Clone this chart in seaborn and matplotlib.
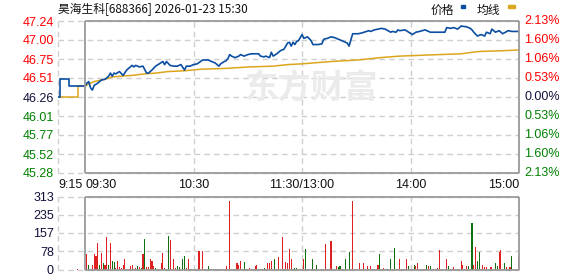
import matplotlib
matplotlib.use("Agg")
import matplotlib.pyplot as plt
from matplotlib.patches import Rectangle
import seaborn as sns
import pandas as pd

# ---------------- data ----------------
title = "昊海生科[688366] 2026-01-23 15:30"
prev_close = 46.26
price_ticks = [47.24, 47.00, 46.75, 46.51, 46.26, 46.01, 45.77, 45.52, 45.28]
pct_ticks = ["2.13%", "1.60%", "1.06%", "0.53%", "0.00%", "0.53%", "1.06%", "1.60%", "2.13%"]
vol_ticks = [0, 78, 157, 235, 313]
time_labels = ["9:15", "09:30", "10:30", "11:30/13:00", "14:00", "15:00"]
time_label_pos = [0, 15, 75, 135, 195, 255]   # minutes since 9:15 on the chart axis

# pre-market (minutes since 9:15)
pre_minutes = list(range(16))
pre_price = [46.26, 46.49, 46.49, 46.49, 46.49, 46.49, 46.40, 46.40,
             46.40, 46.40, 46.40, 46.40, 46.40, 46.40, 46.40, 46.40]
pre_avg = [46.26, 46.26, 46.26, 46.26, 46.26, 46.26, 46.26, 46.26,
           46.26, 46.26, 46.26, 46.40, 46.40, 46.40, 46.40, 46.40]
pre_vol_minute = [11]
pre_volume = [4]
pre_vol_dir = ["r"]

# trading session (minutes since 9:30, afternoon continues after 120)
minutes = [0, 1, 2, 3, 4, 5, 7, 9, 11, 13, 14, 15, 16, 17, 19, 21, 23, 24, 26, 27,
           28, 30, 32, 34, 35, 37, 39, 41, 43, 44, 45, 47, 49, 51, 53, 55, 56, 58, 60, 62,
           65, 68, 70, 72, 74, 75, 77, 78, 79, 80, 81, 83, 85, 86, 88, 90, 92, 96, 97, 99,
           100, 102, 103, 104, 106, 108, 110, 111, 112, 113, 114, 115, 116, 117, 118, 120, 121, 123, 125, 126,
           129, 131, 132, 134, 136, 138, 140, 143, 145, 146, 148, 151, 153, 157, 158, 160, 164, 166, 169, 170,
           172, 173, 174, 177, 179, 181, 183, 185, 188, 190, 191, 199, 200, 202, 204, 206, 208, 211, 213, 214,
           215, 217, 219, 221, 222, 224, 225, 227, 229, 231, 234, 236, 240]
price = [46.40, 46.44, 46.46, 46.38, 46.35, 46.41, 46.44, 46.48, 46.49, 46.53, 46.57, 46.53, 46.57, 46.56, 46.59, 46.54, 46.61, 46.63, 46.67, 46.65,
         46.67, 46.65, 46.66, 46.57, 46.57, 46.61, 46.66, 46.69, 46.72, 46.68, 46.72, 46.67, 46.66, 46.66, 46.68, 46.61, 46.66, 46.66, 46.68, 46.69,
         46.74, 46.74, 46.72, 46.70, 46.66, 46.69, 46.72, 46.73, 46.76, 46.81, 46.79, 46.77, 46.79, 46.81, 46.79, 46.81, 46.82, 46.82, 46.79, 46.78,
         46.79, 46.77, 46.84, 46.79, 46.82, 46.86, 46.88, 46.92, 46.96, 46.97, 46.92, 46.97, 46.94, 46.98, 46.99, 47.07, 47.02, 47.04, 46.99, 46.94,
         46.94, 46.95, 47.01, 47.02, 47.04, 47.03, 47.01, 46.98, 46.96, 46.92, 47.08, 47.08, 47.09, 47.12, 47.11, 47.13, 47.15, 47.14, 47.10, 47.11,
         47.10, 47.13, 47.12, 47.13, 47.10, 47.07, 47.10, 47.11, 47.13, 47.11, 47.10, 47.10, 47.16, 47.15, 47.16, 47.14, 47.18, 47.17, 47.15, 47.13,
         47.10, 47.05, 47.07, 47.05, 47.10, 47.08, 47.14, 47.10, 47.12, 47.08, 47.12, 47.11, 47.11]

avg_minutes = [0, 2, 5, 11, 15, 20, 26, 33, 39, 46, 55, 64, 77, 91, 104, 112, 120, 136, 151, 163,
               174, 196, 208, 214, 218, 231, 240]
avg_price = [46.40, 46.43, 46.46, 46.49, 46.52, 46.53, 46.54, 46.56, 46.57, 46.59, 46.60, 46.62, 46.63, 46.65, 46.66, 46.68, 46.69, 46.72, 46.74, 46.77,
             46.79, 46.81, 46.82, 46.84, 46.85, 46.86, 46.87]

vol_minutes = [1, 2, 3, 4, 5, 6, 7, 8, 9, 10,
               11, 12, 13, 14, 15, 16, 17, 18, 19, 20,
               21, 22, 23, 24, 25, 26, 27, 28, 29, 30,
               31, 32, 33, 34, 35, 36, 37, 38, 39, 40,
               41, 42, 43, 44, 45, 46, 47, 48, 49, 50,
               51, 52, 53, 54, 55, 56, 57, 58, 59, 60,
               61, 62, 63, 64, 65, 66, 68, 69, 70, 71,
               72, 73, 74, 75, 76, 77, 78, 80, 81, 82,
               83, 84, 85, 86, 87, 88, 89, 90, 91, 92,
               93, 94, 95, 96, 97, 98, 99, 100, 101, 102,
               103, 104, 105, 106, 107, 108, 109, 110, 111, 112,
               113, 114, 115, 116, 117, 118, 119, 120, 121, 122,
               123, 124, 125, 126, 127, 128, 131, 132, 133, 134,
               135, 136, 137, 138, 139, 140, 141, 142, 143, 144,
               145, 146, 147, 148, 149, 150, 152, 153, 154, 155,
               156, 157, 158, 159, 160, 161, 162, 163, 164, 165,
               166, 167, 168, 169, 170, 171, 172, 173, 174, 175,
               176, 177, 178, 179, 180, 181, 182, 183, 184, 185,
               186, 187, 188, 189, 190, 191, 192, 194, 195, 196,
               200, 201, 202, 203, 204, 205, 206, 207, 208, 209,
               210, 211, 212, 213, 214, 215, 216, 217, 218, 219,
               220, 221, 222, 223, 224, 225, 226, 227, 228, 229,
               230, 231, 232, 233, 234, 235, 236, 240]
volume = [68, 18, 4, 18, 68, 57, 115, 21, 71, 26,
          18, 138, 18, 115, 38, 31, 7, 38, 10, 7,
          18, 43, 4, 4, 14, 21, 4, 7, 17, 10,
          7, 68, 132, 10, 11, 47, 38, 14, 7, 4,
          4, 26, 71, 7, 4, 145, 128, 4, 47, 7,
          17, 11, 4, 43, 57, 7, 43, 4, 4, 4,
          4, 4, 81, 4, 81, 4, 17, 4, 4, 4,
          4, 4, 4, 4, 4, 4, 14, 292, 4, 4,
          4, 26, 21, 36, 4, 33, 4, 4, 7, 4,
          4, 14, 21, 4, 4, 4, 7, 4, 30, 30,
          38, 4, 43, 4, 53, 4, 138, 4, 33, 26,
          90, 47, 4, 7, 7, 4, 4, 4, 43, 88,
          4, 4, 4, 43, 4, 21, 4, 4, 111, 4,
          4, 124, 4, 4, 13, 9, 13, 4, 4, 47,
          4, 77, 4, 292, 4, 4, 30, 4, 30, 4,
          17, 4, 17, 4, 4, 4, 21, 68, 4, 7,
          4, 4, 4, 47, 4, 94, 4, 4, 43, 4,
          4, 4, 43, 13, 4, 4, 21, 17, 26, 4,
          4, 4, 4, 21, 17, 13, 4, 4, 7, 85,
          47, 17, 4, 4, 9, 4, 4, 4, 38, 21,
          4, 17, 17, 4, 200, 21, 98, 38, 73, 4,
          21, 9, 9, 4, 9, 9, 4, 30, 13, 77,
          85, 4, 26, 9, 4, 9, 60, 55]
vol_dir = list("rggrrrrgrg" "rrgrggrrrr" "rrgrrrgrgr" "grgrrrrrgr" "rrrrggrrrr"
               "ggrggrrrrr" "rrrrrrgggg" "gggggrrrgg" "rrrrggrgrr" "rrrgrrgrrr"
               "rrgrrrrgrr" "rrgggrrrrg" "rrrgrgrrrr" "rrgrrggrrg" "rgrrrrrrrg"
               "rgrgrrrgrr" "ggrgrgrrrr" "grrgrrgrrr" "grrgrgrrrr" "rgrrrggrrr"
               "grgrgrrggr" "rrrgrrrggr" "rrgrrrgr")

# ---------------- style ----------------
sns.set_style("white")
plt.rcParams["font.family"] = ["Liberation Sans", "Noto Sans CJK SC", "DejaVu Sans"]

BLUE = "#0b4ea2"
GOLD = "#dca51e"
RED = "#ff0000"
GREEN = "#008000"
GRID = "#cfcfcf"
FRAME = "#9a9a9a"
DARK = "#10103a"
OPEN = 15
END = 255
DASH = (0, (4, 3))

W, H = 578, 276
fig = plt.figure(figsize=(W / 100, H / 100), dpi=100)


def box(l, t, r, b):
    return [l / W, 1 - b / H, (r - l) / W, (b - t) / H]


ax = fig.add_axes(box(58, 21, 519, 173))
axv = fig.add_axes(box(58, 196.5, 519, 269.5))
for a in (ax, axv):
    a.patch.set_alpha(0)
    for s in a.spines.values():
        s.set_visible(False)

lo = prev_close * (1 - 0.0213)
hi = prev_close * (1 + 0.0213)

# ---- main price panel ----
pre_df = pd.DataFrame({"m": pre_minutes, "price": pre_price, "avg": pre_avg})
main_df = pd.DataFrame({"m": [OPEN + t for t in minutes], "price": price})
avg_df = pd.DataFrame({"m": [OPEN + t for t in avg_minutes], "avg": avg_price})

ax.text(311 / W, 1 - 89 / H, "东方财富", transform=fig.transFigure, ha="center", va="center",
        fontsize=24, fontweight="bold", color="#ebebeb", family=["Noto Sans CJK SC"], zorder=0.5)

for v in price_ticks:
    ax.axhline(v, color=GRID, lw=1, ls=DASH, zorder=0.2, clip_on=False)
for m in [0, 75, 135, 195]:
    ax.axvline(m, color=GRID, lw=1, ls=DASH, zorder=0.2, clip_on=False)

sns.lineplot(data=pre_df, x="m", y="avg", color=GOLD, lw=1.1, drawstyle="steps-post",
             estimator=None, ax=ax)
sns.lineplot(data=avg_df, x="m", y="avg", color=GOLD, lw=1.1, estimator=None, ax=ax)
sns.lineplot(data=pre_df, x="m", y="price", color=BLUE, lw=1.2, drawstyle="steps-post",
             estimator=None, ax=ax)
sns.lineplot(data=main_df, x="m", y="price", color=BLUE, lw=1.2, estimator=None, ax=ax)

ax.set_xlim(0, END)
ax.set_ylim(lo, hi)
ax.vlines([OPEN, END], lo, hi, color=FRAME, lw=1.3, zorder=3, clip_on=False)
ax.hlines([lo, hi], OPEN, END, color=FRAME, lw=1.3, zorder=3, clip_on=False)

label_colors = [RED] * 4 + [DARK] + [GREEN] * 4
ax.set_yticks(price_ticks, labels=[f"{v:.2f}" for v in price_ticks])
ax.tick_params(axis="y", length=0, pad=3, labelsize=9)
for lbl, c in zip(ax.get_yticklabels(), label_colors):
    lbl.set_color(c)
for v, s, c in zip(price_ticks, pct_ticks, label_colors):
    ax.text(1.011, v, s, transform=ax.get_yaxis_transform(), ha="left", va="center",
            color=c, fontsize=9)

ax.set_xticks(time_label_pos, labels=time_labels)
ax.tick_params(axis="x", length=0, pad=4, labelsize=9, labelcolor="#111111")
for lbl, ha in zip(ax.get_xticklabels(), ["left", "left", "center", "center", "center", "right"]):
    lbl.set_ha(ha)
ax.set_xlabel("")
ax.set_ylabel("")

# ---- volume panel ----
vol_df = pd.DataFrame({
    "m": pre_vol_minute + [OPEN + t for t in vol_minutes],
    "v": pre_volume + volume,
    "dir": pre_vol_dir + vol_dir,
})
for v in vol_ticks:
    axv.axhline(v, color=GRID, lw=1, ls=DASH, zorder=0.2, clip_on=False)
for m in [0, 75, 135, 195]:
    axv.axvline(m, color=GRID, lw=1, ls=DASH, zorder=0.2, clip_on=False)

sns.barplot(data=vol_df, x="m", y="v", hue="dir", palette={"r": RED, "g": GREEN},
            native_scale=True, dodge=False, width=0.6, errorbar=None, legend=False,
            linewidth=0, ax=axv)

axv.set_xlim(0, END)
axv.set_ylim(0, vol_ticks[-1])
axv.vlines([OPEN, END], 0, vol_ticks[-1], color=FRAME, lw=1.3, zorder=3, clip_on=False)
axv.hlines([0, vol_ticks[-1]], OPEN, END, color=FRAME, lw=1.3, zorder=3, clip_on=False)
axv.set_xticks([])
axv.set_yticks(vol_ticks, labels=[str(v) for v in vol_ticks])
axv.tick_params(axis="y", length=0, pad=3, labelsize=9, labelcolor=DARK)
axv.set_xlabel("")
axv.set_ylabel("")

# ---- title and legend ----
cjk = ["Noto Sans CJK SC", "DejaVu Sans"]
fig.text(58 / W, 1 - 9.5 / H, title, ha="left", va="center", fontsize=8.5, family=cjk, color="#111111")
fig.text(431 / W, 1 - 10 / H, "价格", ha="left", va="center", fontsize=8.5, family=cjk, color="#111111")
fig.text(477 / W, 1 - 10 / H, "均线", ha="left", va="center", fontsize=8.5, family=cjk, color="#111111")
fig.patches.append(Rectangle((461 / W, 1 - 8 / H), 4 / W, 3 / H, transform=fig.transFigure,
                             color=BLUE, figure=fig))
fig.patches.append(Rectangle((508 / W, 1 - 8 / H), 6.5 / W, 2.5 / H, transform=fig.transFigure,
                             color=GOLD, figure=fig))

fig.savefig("out.png", dpi=100)
